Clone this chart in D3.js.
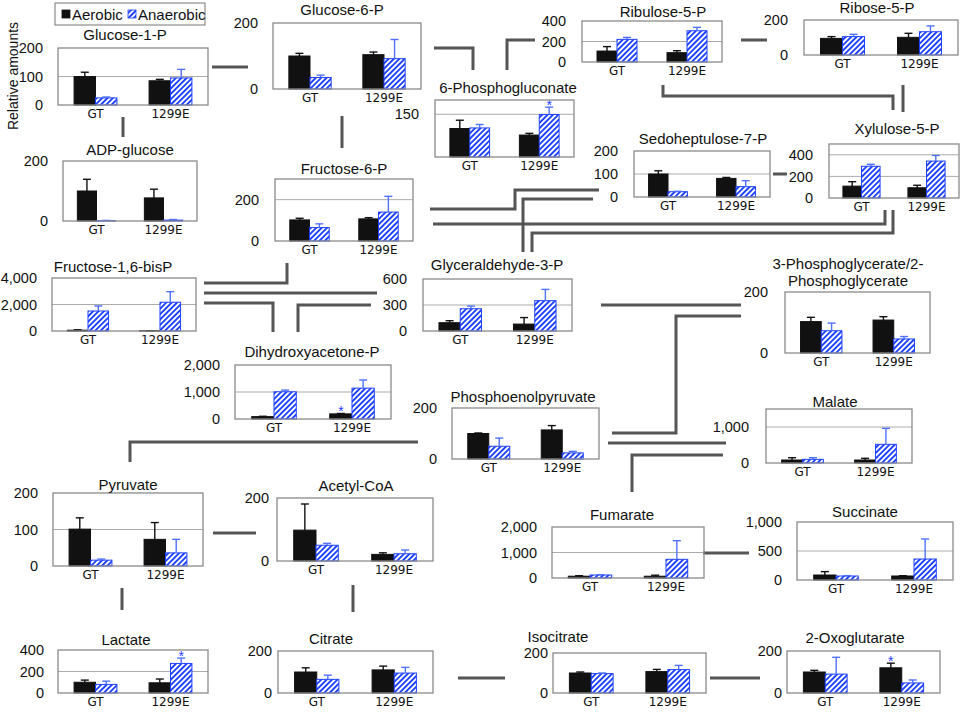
<!DOCTYPE html>
<html><head><meta charset="utf-8">
<script src="https://cdn.jsdelivr.net/npm/d3@7"></script>
<style>body{margin:0;background:#fff} svg{display:block}</style>
</head><body><svg id="c" width="964" height="718"></svg>
<script>
// ---------------- DATA ----------------
const metabolites = ["Glucose-1-P","Glucose-6-P","Ribulose-5-P","Ribose-5-P","6-Phosphogluconate","Xylulose-5-P","Sedoheptulose-7-P","ADP-glucose","Fructose-6-P","Fructose-1,6-bisP","Glyceraldehyde-3-P","3-Phosphoglycerate/2-Phosphoglycerate","Dihydroxyacetone-P","Phosphoenolpyruvate","Malate","Pyruvate","Acetyl-CoA","Fumarate","Succinate","Lactate","Citrate","Isocitrate","2-Oxoglutarate"];
const strains = ["GT","1299E"];
const conditions = ["Aerobic","Anaerobic"];
const aerobicGT =         [100,100,107, 95,100,110,100,100,102,  60, 96,103,  88,100,  83,101, 98,  70, 86,100,100,100,100];
const aerobicGTErr =      [ 15,  8, 43, 10, 29, 41, 14, 39,  8,  30, 23, 14,  12,  2,  64, 31, 83,  20, 58, 20, 20,  5,  8];
const aerobic1299E =      [ 85,104, 91,101, 77, 95, 81, 77,107,  20, 80,108, 190,114,  83, 73, 21,  70, 69, 95,110,107,120];
const aerobic1299EErr =   [  5,  8, 19, 23,  6, 23,  4, 29,  6,   5, 75, 11,  15, 17,  47, 46,  5,  40,  5, 35, 18, 11, 22];
const anaerobicGT =       [ 25, 35,221,105,102,294, 23,  1, 65,1510,257, 73,1008, 50, 102, 16, 50, 118, 69, 80, 65, 97, 90];
const anaerobicGTErr =    [  3,  7, 19, 13, 12, 18,  2,  1, 18, 380, 31, 25,  62, 32,  45,  3,  6,  12,  6, 30, 20,  3, 80];
const anaerobic1299E =    [ 95, 92,305,133,149,342, 45,  3,140,2170,350, 46,1143, 24, 519, 36, 23, 733,362,275, 95,117, 48];
const anaerobic1299EErr = [ 30, 58, 33, 33, 26, 52, 26,  2, 76, 800,130,  8, 302,  6, 444, 37, 12, 730,345, 50, 27, 21, 14];
const yMax = [200,200,400,200,200,500,200,200,300,4000,600,200,2000,200,1500,200,200,2000,1000,400,200,200,200];
const yTicks = [[0,100,200],[0,200],[0,200,400],[0,200],[150],[0,200,400],[0,100,200],[0,200],[0,200],[0,2000,4000],[0,300,600],[0,200],[0,1000,2000],[0,200],[0,1000],[0,100,200],[0,200],[0,1000,2000],[0,500,1000],[0,200,400],[0,200],[0,200],[0,200]];
const gridValues = [[100],[],[200],[],[150],[200,400],[100],[],[200],[2000],[300],[],[1000],[],[1000],[100],[],[1000],[500],[200],[],[],[]];
const significant = [["6-Phosphogluconate","1299E","Anaerobic"],["Dihydroxyacetone-P","1299E","Aerobic"],["Lactate","1299E","Anaerobic"],["2-Oxoglutarate","1299E","Aerobic"]];
const yAxisTitle = "Relative amounts";

// ---------------- LAYOUT ----------------
const layout = [
 {frame:[58,48,208,105],  title:[125,34],  tickRight:43},
 {frame:[273,23,421,89],  title:[342,9],   tickRight:258},
 {frame:[582,21,722,62],  title:[663,11],  tickRight:566},
 {frame:[804,20,958,55],  title:[877,7],   tickRight:788},
 {frame:[435,100,574,157],title:[508,87],  tickRight:419},
 {frame:[829,144,959,198],title:[897,128], tickRight:813},
 {frame:[634,151,770,197],title:[703,138], tickRight:618},
 {frame:[63,161,197,221], title:[130,149], tickRight:48},
 {frame:[275,179,413,241],title:[344,168], tickRight:259},
 {frame:[52,278,196,331], title:[113,266], tickRight:37},
 {frame:[423,279,572,331],title:[497,264], tickRight:407},
 {frame:[785,292,930,353],title:[848,263], tickRight:768, split:21},
 {frame:[235,365,391,419],title:[312,351], tickRight:220},
 {frame:[452,408,599,459],title:[523,396], tickRight:437},
 {frame:[766,409,912,463],title:[835,401], tickRight:749},
 {frame:[53,493,203,566], title:[128,484], tickRight:38},
 {frame:[277,498,433,561],title:[356,485], tickRight:269},
 {frame:[552,527,704,578],title:[622,514], tickRight:537},
 {frame:[797,522,953,580],title:[865,511], tickRight:782},
 {frame:[58,650,208,693], title:[126,639], tickRight:44},
 {frame:[278,651,433,693],title:[331,638], tickRight:272},
 {frame:[553,653,706,693],title:[558,636], tickRight:548},
 {frame:[787,651,940,693],title:[855,637], tickRight:782}
];
const connectors = [
 "M212,67H248","M123,117V137","M342,116V148",
 "M434,48H473V70","M507,70V40H535","M741,40H767",
 "M663,85V96H893V110","M903,85V112","M773,174H787",
 "M430,209H515V190H599","M433,224H885V210","M523,252V199H593","M532,252V233H893V210",
 "M287,263V283H204","M204,293H377","M204,303H273V332","M298,332V305H371",
 "M130,462V442H418","M601,305H741","M612,433H676V316H741","M608,443H726","M632,492V455H723",
 "M213,533H256","M122,588V610","M353,585V612","M703,553H749","M458,678H505","M710,678H760"
];

const BLUE = "#1f42ff", EBLUE = "#5070ff", BLACK = "#111", FRAME = "#8a8a8a", GRID = "#ababab";
const svg = d3.select("#c");
const defs = svg.append("defs");
const pat = defs.append("pattern").attr("id","hatch").attr("patternUnits","userSpaceOnUse")
  .attr("width",3.8).attr("height",3.8).attr("patternTransform","rotate(45)");
pat.append("rect").attr("width",3.8).attr("height",3.8).attr("fill","#fff");
pat.append("rect").attr("width",1.9).attr("height",3.8).attr("fill",BLUE);

// connectors
svg.append("g").selectAll("path").data(connectors).join("path")
  .attr("d", d=>d).attr("fill","none").attr("stroke","#555").attr("stroke-width",3);

const seriesData = {
  "Aerobic":   {"GT":[aerobicGT,aerobicGTErr], "1299E":[aerobic1299E,aerobic1299EErr]},
  "Anaerobic": {"GT":[anaerobicGT,anaerobicGTErr], "1299E":[anaerobic1299E,anaerobic1299EErr]}
};
const fmt = d3.format(",");

metabolites.forEach((name,i)=>{
  const L = layout[i];
  const [x0,y0,x1,y1] = L.frame;
  const g = svg.append("g");
  const y = d3.scaleLinear().domain([0,yMax[i]]).range([y1,y0]);
  const x = d3.scaleBand().domain(strains).range([x0,x1]);
  const xs = d3.scaleBand().domain(conditions).range([0,x.bandwidth()]).paddingOuter(0.75);

  g.selectAll("line.grid").data(gridValues[i]).join("line").attr("class","grid")
    .attr("x1",x0).attr("x2",x1).attr("y1",d=>y(d)).attr("y2",d=>y(d))
    .attr("stroke",GRID).attr("stroke-width",1);

  const rows = [];
  strains.forEach(s=>conditions.forEach(c=>{
    const [m,e] = seriesData[c][s];
    rows.push({s,c,v:m[i],e:e[i]});
  }));
  const cx = d=>x(d.s)+xs(d.c)+xs.bandwidth()/2;
  g.selectAll("rect.bar").data(rows).join("rect").attr("class","bar")
    .attr("x",d=>x(d.s)+xs(d.c)).attr("width",xs.bandwidth())
    .attr("y",d=>y(d.v)).attr("height",d=>y(0)-y(d.v))
    .attr("fill",d=>d.c==="Aerobic"?BLACK:"url(#hatch)")
    .attr("stroke",d=>d.c==="Aerobic"?BLACK:BLUE).attr("stroke-width",1);
  const eb = g.selectAll("g.eb").data(rows).join("g").attr("class","eb")
    .attr("stroke",d=>d.c==="Aerobic"?BLACK:EBLUE).attr("stroke-width",1.4);
  eb.append("line").attr("x1",cx).attr("x2",cx).attr("y1",d=>y(d.v)).attr("y2",d=>y(d.v+d.e));
  eb.append("line").attr("x1",d=>cx(d)-4).attr("x2",d=>cx(d)+4)
    .attr("y1",d=>y(d.v+d.e)).attr("y2",d=>y(d.v+d.e));
  const sig = rows.filter(r=>significant.some(q=>q[0]===name&&q[1]===r.s&&q[2]===r.c));
  g.selectAll("text.sig").data(sig).join("text").attr("class","sig")
    .attr("x",cx).attr("y",d=>y(d.v+d.e)+3)
    .attr("text-anchor","middle").attr("fill",BLUE).attr("font-family","Liberation Sans, Arial, sans-serif")
    .attr("font-size",14).text("*");

  g.append("rect").attr("x",x0).attr("y",y0).attr("width",x1-x0).attr("height",y1-y0)
    .attr("fill","none").attr("stroke",FRAME).attr("stroke-width",1.3);

  const ya = g.append("g").attr("transform",`translate(${x0},0)`)
    .call(d3.axisLeft(y).tickValues(yTicks[i]).tickSize(0).tickPadding(x0-L.tickRight).tickFormat(fmt));
  ya.select(".domain").remove();
  ya.attr("font-family","Liberation Sans, Arial, sans-serif").attr("font-size",14.5);
  ya.selectAll("text").attr("fill","#111");
  const xa = g.append("g").attr("transform",`translate(0,${y1})`)
    .call(d3.axisBottom(x).tickSize(0).tickPadding(4));
  xa.select(".domain").remove();
  xa.attr("font-family","DejaVu Sans, Verdana, sans-serif").attr("font-size",12);
  xa.selectAll("text").attr("fill","#111");

  const t = g.append("text").attr("x",L.title[0]).attr("y",L.title[1]).attr("text-anchor","middle")
    .attr("dominant-baseline","central").attr("font-family","Liberation Sans, Arial, sans-serif")
    .attr("font-size",15).attr("fill","#111");
  if (L.split) {
    t.append("tspan").attr("x",L.title[0]).text(name.slice(0,L.split));
    t.append("tspan").attr("x",L.title[0]).attr("dy",17).text(name.slice(L.split));
  } else t.text(name);
});

svg.append("text").attr("transform","translate(13,76) rotate(-90)").attr("text-anchor","middle")
  .attr("dominant-baseline","central").attr("font-family","Liberation Sans, Arial, sans-serif")
  .attr("font-size",14).attr("fill","#111").text(yAxisTitle);

const lg = svg.append("g");
lg.append("rect").attr("x",55).attr("y",3).attr("width",150).attr("height",22)
  .attr("fill","#fff").attr("stroke",FRAME).attr("stroke-width",1.2);
const legItems = [{c:conditions[0],x:62,fill:BLACK,stroke:BLACK},{c:conditions[1],x:128,fill:"url(#hatch)",stroke:BLUE}];
legItems.forEach(d=>{
  lg.append("rect").attr("x",d.x).attr("y",10).attr("width",8).attr("height",8)
    .attr("fill",d.fill).attr("stroke",d.stroke).attr("stroke-width",0.8);
  lg.append("text").attr("x",d.x+10).attr("y",14.5).attr("dominant-baseline","central")
    .attr("font-family","Liberation Sans, Arial, sans-serif").attr("font-size",15).attr("fill","#111").text(d.c);
});
</script></body></html>
